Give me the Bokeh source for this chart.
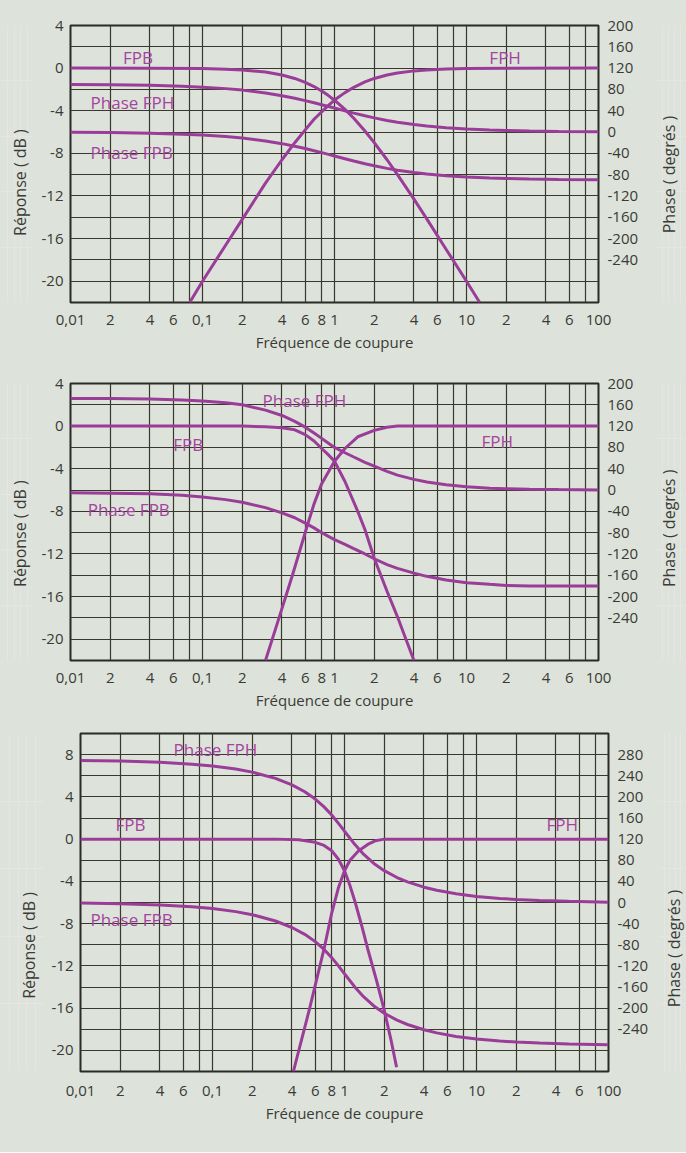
import math
from bokeh.plotting import figure
from bokeh.models import Range1d, LinearAxis, FixedTicker, Label
from bokeh.layouts import row
from bokeh.embed import file_html
from bokeh.resources import INLINE

# ---------------- data ----------------
FREQ = [0.01, 0.02, 0.04, 0.07, 0.1, 0.15, 0.2, 0.3, 0.4, 0.5, 0.6, 0.7, 0.8, 0.9, 1,
        1.2, 1.4, 1.7, 2, 2.5, 3, 4, 5, 7, 10, 15, 20, 30, 50, 100]

X_TICKS = [0.01, 0.02, 0.04, 0.06, 0.08, 0.1, 0.2, 0.4, 0.6, 0.8, 1, 2, 4, 6, 8,
           10, 20, 40, 60, 80, 100]
X_LABELS = ["0,01", "2", "4", "6", "", "0,1", "2", "4", "6", "8", "1", "2", "4", "6", "",
            "10", "2", "4", "6", "", "100"]

# panel 1
p1_fpb_f = [0.01, 0.04, 0.1, 0.15, 0.2, 0.3, 0.4, 0.5, 0.6, 0.7, 0.8, 0.9, 1, 1.2, 1.4,
            1.7, 2, 2.5, 3, 4, 5, 7, 10, 12.6]
p1_fpb_db = [0.0, -0.01, -0.04, -0.1, -0.17, -0.37, -0.64, -0.97, -1.34, -1.73, -2.15,
             -2.58, -3.01, -3.87, -4.71, -5.9, -6.99, -8.6, -10.0, -12.3, -14.15, -17.0,
             -20.0, -22.0]
p1_fph_f = [0.08, 0.1, 0.15, 0.2, 0.3, 0.4, 0.5, 0.6, 0.7, 0.8, 0.9, 1, 1.2, 1.4, 1.7, 2,
            2.5, 3, 4, 5, 7, 10, 20, 100]
p1_fph_db = [-22.0, -20.0, -16.6, -14.2, -10.8, -8.6, -7.0, -5.8, -4.8, -4.1, -3.5, -3.0,
             -2.3, -1.8, -1.3, -0.97, -0.64, -0.46, -0.26, -0.17, -0.09, -0.04, -0.01, 0.0]
p1_phase_fph = [89.4, 88.9, 87.7, 86.0, 84.3, 81.5, 78.7, 73.3, 68.2, 63.4, 59.0, 55.0,
                51.3, 48.0, 45.0, 39.8, 35.5, 30.5, 26.6, 21.8, 18.4, 14.0, 11.3, 8.1,
                5.7, 3.8, 2.9, 1.9, 1.1, 0.6]
p1_phase_fpb = [-0.6, -1.1, -2.3, -4.0, -5.7, -8.5, -11.3, -16.7, -21.8, -26.6, -31.0,
                -35.0, -38.7, -42.0, -45.0, -50.2, -54.5, -59.5, -63.4, -68.2, -71.6,
                -76.0, -78.7, -81.9, -84.3, -86.2, -87.1, -88.1, -88.9, -89.4]

# panel 2
p2_fpb_f = [0.01, 0.1, 0.2, 0.3, 0.4, 0.5, 0.6, 0.7, 0.8, 0.9, 1, 1.2, 1.5, 1.7, 2, 2.5,
            3, 3.5, 4]
p2_fpb_db = [0.0, 0.0, 0.0, -0.05, -0.15, -0.35, -0.8, -1.4, -2.1, -2.7, -3.3, -5.2,
             -8.0, -9.7, -12.4, -15.5, -17.9, -20.1, -22.0]
p2_fph_f = [0.3, 0.38, 0.48, 0.62, 0.7, 0.8, 1, 1.2, 1.5, 2, 2.5, 3, 5, 10, 100]
p2_fph_db = [-22.0, -18.0, -14.0, -9.4, -7.3, -5.4, -3.3, -2.1, -1.0, -0.4, -0.1, 0.0,
             0.0, 0.0, 0.0]
p2_phase_fph = [172, 172, 171, 169, 167, 164, 160, 150, 140, 129, 118, 107, 97, 88, 80,
                70, 62, 52, 45, 35, 28, 20, 15, 10, 6, 3.5, 2.5, 1.5, 0.8, 0.3]
p2_phase_fpb = [-5, -6, -7, -10, -13, -18, -23, -33, -43, -52, -62, -71, -80, -87, -93,
                -102, -110, -120, -129, -140, -147, -156, -162, -169, -174, -177, -179,
                -180, -180, -180]

# panel 3
p3_fpb_f = [0.01, 0.1, 0.3, 0.45, 0.6, 0.7, 0.8, 0.9, 1, 1.1, 1.2, 1.35, 1.5, 1.75, 2,
            2.25, 2.48]
p3_fpb_db = [0.0, 0.0, 0.0, -0.05, -0.3, -0.6, -1.1, -1.9, -3.0, -4.4, -5.9, -8.2,
             -10.4, -13.4, -16.2, -19.0, -21.6]
p3_fph_f = [0.41, 0.54, 0.7, 0.8, 0.9, 1, 1.1, 1.28, 1.5, 1.72, 2, 3, 10, 100]
p3_fph_db = [-22.0, -16.2, -10.4, -7.0, -4.6, -3.0, -2.0, -1.1, -0.5, -0.15, 0.0, 0.0,
             0.0, 0.0]
p3_phase_fph = [268.9, 267.7, 265.4, 262.0, 258.5, 252.7, 246.9, 235.0, 222.7, 209.7,
                195.9, 181.1, 165.6, 149.9, 135.0, 109.7, 91.1, 72.4, 60.3, 47.3, 39.0,
                29.0, 23.1, 16.4, 11.5, 7.6, 5.7, 3.8, 2.3, 0.6]
p3_phase_fpb = [-1.1, -2.3, -4.6, -8.0, -11.5, -17.3, -23.1, -35.0, -47.3, -60.3, -74.1,
                -88.9, -104.4, -120.1, -135.0, -160.3, -178.9, -197.6, -209.7, -222.7,
                -231.0, -241.0, -246.9, -253.6, -258.5, -262.4, -264.3, -266.2, -267.7,
                -269.4]

PHASE_TICKS_12 = [200, 160, 120, 80, 40, 0, -40, -80, -120, -160, -200, -240]
PHASE_TICKS_3 = [280, 240, 200, 160, 120, 80, 40, 0, -40, -80, -120, -160, -200, -240]

Y_TITLE_LEFT = "Réponse ( dB )"
Y_TITLE_RIGHT = "Phase ( degrés )"
X_TITLE = "Fréquence de coupure"

# ---------------- style ----------------
BG = "#dde3da"
GRID = "#38382f"
CURVE = "#9a3d98"
TEXT_C = "#a4449f"
INK = "#3a3a36"
FONT = "Open Sans"

PH0 = 120.0       # phase (deg) drawn at 0 dB
PH_PER_DB = 20.0  # degrees per dB on the right scale


def fmt(v):
    return str(v) if v >= 0 else "-" + str(-v)


def plain(ax):
    ax.axis_line_color = None
    ax.major_tick_line_color = None
    ax.minor_tick_line_color = None
    ax.major_tick_out = 0
    ax.major_tick_in = 0
    ax.minor_tick_out = 0
    ax.minor_tick_in = 0
    ax.major_label_text_font = FONT
    ax.major_label_text_font_size = "15px"
    ax.major_label_text_color = INK
    ax.axis_label_text_font = FONT
    ax.axis_label_text_font_size = "15px"
    ax.axis_label_text_font_style = "normal"
    ax.axis_label_text_color = INK


def side(width, height, top, bottom, text, tx, ty):
    s = figure(width=width, height=height, x_range=Range1d(0, 1), y_range=Range1d(0, 1),
               output_backend="svg", toolbar_location=None,
               x_axis_location=None, y_axis_location=None,
               min_border_left=0, min_border_right=0,
               min_border_top=top, min_border_bottom=bottom,
               background_fill_color=BG, border_fill_color=BG, outline_line_color=None)
    s.add_layout(Label(x=tx, y=ty, text=text, angle=math.pi / 2, text_align="center",
                       text_baseline="middle", text_font=FONT, text_font_size="16px",
                       text_color=INK))
    return s


def panel(height, width, left, right, top, bottom, db_top, phase_ticks,
          fpb_f, fpb_db, fph_f, fph_db, ph_fph, ph_fpb, labels, x_standoff):
    p = figure(width=width, height=height, x_axis_type="log",
               x_range=Range1d(0.01, 100), y_range=Range1d(-22, db_top),
               output_backend="svg", toolbar_location=None,
               min_border_left=left, min_border_right=right,
               min_border_top=top, min_border_bottom=bottom,
               background_fill_color=BG, border_fill_color=BG,
               outline_line_color="#2a2a26", outline_line_width=2)
    p.extra_y_ranges = {"phase": Range1d(PH0 + PH_PER_DB * -22, PH0 + PH_PER_DB * db_top)}

    db_ticks = list(range(-22, db_top + 1, 2))
    ax_l = p.yaxis[0]
    ax_b = p.xaxis[0]
    ax_l.ticker = FixedTicker(ticks=db_ticks)
    ax_l.major_label_overrides = {t: (fmt(t) if (t % 4 == 0 and -22 < t < 10) else "")
                                  for t in db_ticks}
    ax_b.ticker = FixedTicker(ticks=X_TICKS)
    ax_b.major_label_overrides = dict(zip(X_TICKS, X_LABELS))
    ax_b.axis_label = X_TITLE

    ax_r = LinearAxis(y_range_name="phase", ticker=FixedTicker(ticks=phase_ticks))
    ax_r.major_label_overrides = {t: fmt(t) for t in phase_ticks}
    p.add_layout(ax_r, "right")

    for ax in [ax_b, ax_l, ax_r]:
        plain(ax)
    ax_b.major_label_standoff = x_standoff
    ax_b.axis_label_standoff = 4
    ax_l.major_label_standoff = 7
    ax_r.major_label_standoff = 9

    p.xgrid.grid_line_color = GRID
    p.ygrid.grid_line_color = GRID
    p.xgrid.grid_line_width = 1.2
    p.ygrid.grid_line_width = 1.2

    p.line(fpb_f, fpb_db, color=CURVE, line_width=3)
    p.line(fph_f, fph_db, color=CURVE, line_width=3)
    p.line(FREQ, ph_fph, y_range_name="phase", color=CURVE, line_width=3)
    p.line(FREQ, ph_fpb, y_range_name="phase", color=CURVE, line_width=3)

    for (lx, ly, txt) in labels:
        p.add_layout(Label(x=lx, y=ly, text=txt, text_font=FONT, text_font_size="17px",
                           text_color=TEXT_C, text_baseline="middle", text_align="left"))
    return p


ROW_STYLE = {"background-color": BG}

# panel 1: page rows 0-360, frame x 70-598
p1 = panel(360, 622, 36, 58, 25, 58, 4, PHASE_TICKS_12,
           p1_fpb_f, p1_fpb_db, p1_fph_f, p1_fph_db, p1_phase_fph, p1_phase_fpb,
           [(0.025, 1.0, "FPB"), (14.9, 1.0, "FPH"),
            (0.0142, -3.2, "Phase FPH"), (0.0142, -7.9, "Phase FPB")], 12)
r1 = row(side(34, 360, 25, 58, Y_TITLE_LEFT, 0.588, 0.433), p1,
         side(30, 360, 25, 58, Y_TITLE_RIGHT, 0.433, 0.462), spacing=0, styles=ROW_STYLE)

# panel 2: page rows 360-715, frame x 70-598
p2 = panel(355, 622, 36, 58, 23, 55, 4, PHASE_TICKS_12,
           p2_fpb_f, p2_fpb_db, p2_fph_f, p2_fph_db, p2_phase_fph, p2_phase_fpb,
           [(0.285, 2.4, "Phase FPH"), (0.06, -1.7, "FPB"),
            (13.0, -1.45, "FPH"), (0.0135, -7.8, "Phase FPB")], 12)
r2 = row(side(34, 355, 23, 55, Y_TITLE_LEFT, 0.588, 0.458), p2,
         side(30, 355, 23, 55, Y_TITLE_RIGHT, 0.433, 0.477), spacing=0, styles=ROW_STYLE)

# panel 3: page rows 715-1152, frame x 80-608
p3 = panel(437, 614, 36, 50, 18, 81, 10, PHASE_TICKS_3,
           p3_fpb_f, p3_fpb_db, p3_fph_f, p3_fph_db, p3_phase_fph, p3_phase_fpb,
           [(0.0507, 8.5, "Phase FPH"), (0.0184, 1.4, "FPB"),
            (33.9, 1.4, "FPH"), (0.0119, -7.6, "Phase FPB")], 14)
r3 = row(side(44, 437, 18, 81, Y_TITLE_LEFT, 0.659, 0.373), p3,
         side(28, 437, 18, 81, Y_TITLE_RIGHT, 0.571, 0.364), spacing=0, styles=ROW_STYLE)

open("out.html", "w").write(file_html([r1, r2, r3], INLINE))
